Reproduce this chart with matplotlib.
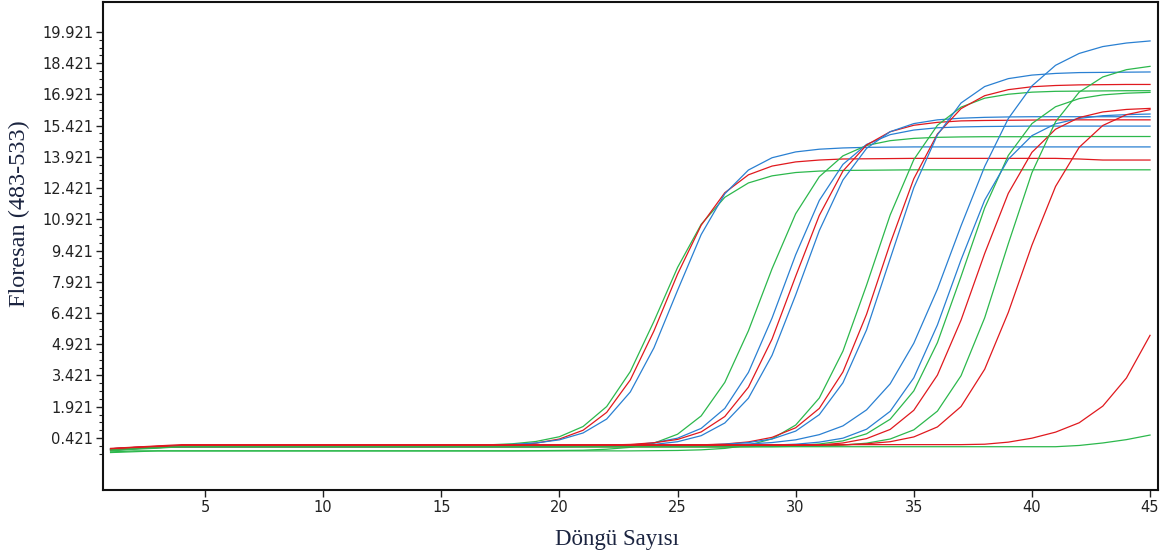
import numpy as np
import matplotlib
matplotlib.use("Agg")
import matplotlib.pyplot as plt
from matplotlib.ticker import FixedLocator

GREEN = "#2cb84c"
RED = "#e0191e"
BLUE = "#2a80d2"

cycles = np.arange(1, 46)

# fluorescence per cycle (1..45) for each well
green_1 = [-0.12, -0.06, 0.0, 0.03] + [0.05] * 10 + [
    0.06, 0.07, 0.09, 0.14, 0.25, 0.48, 0.97, 1.93, 3.61, 6.02, 8.61, 10.68,
    11.98, 12.67, 13.01, 13.17, 13.24, 13.27, 13.28, 13.29] + [13.3] * 11
red_1 = [-0.16, -0.09, -0.04, -0.01] + [0.0] * 10 + [
    0.01, 0.02, 0.03, 0.08, 0.17, 0.37, 0.79, 1.65, 3.21, 5.56, 8.29, 10.64,
    12.2, 13.06, 13.48, 13.68, 13.77, 13.82, 13.83, 13.84] + [13.85] * 7 + [
    13.82, 13.77, 13.77, 13.77]
blue_1 = [-0.1, -0.04, 0.01, 0.04] + [0.05] * 10 + [
    0.06, 0.06, 0.08, 0.11, 0.18, 0.33, 0.66, 1.33, 2.63, 4.75, 7.51, 10.19,
    12.15, 13.29, 13.88, 14.16, 14.29, 14.35, 14.38, 14.39] + [14.4] * 11

green_2 = [-0.25] + [-0.2] * 17 + [
    -0.19, -0.18, -0.17, -0.12, -0.03, 0.17, 0.6, 1.48, 3.09, 5.57, 8.55,
    11.19, 12.97, 13.97, 14.47, 14.7, 14.81, 14.86, 14.88] + [14.89] * 3 + [14.9] * 5
blue_2 = [-0.14, -0.07, -0.02] + [0.0] * 16 + [
    0.01, 0.02, 0.04, 0.08, 0.19, 0.41, 0.88, 1.84, 3.57, 6.18, 9.22, 11.83,
    13.56, 14.52, 14.99, 15.21, 15.32, 15.36, 15.38, 15.39] + [15.4] * 6
red_2 = [-0.12, -0.05, 0.0] + [0.05] * 16 + [
    0.06, 0.06, 0.08, 0.11, 0.19, 0.35, 0.71, 1.45, 2.86, 5.17, 8.19, 11.11,
    13.24, 14.49, 15.13, 15.44, 15.58, 15.65, 15.67, 15.68, 15.69] + [15.7] * 5
blue_3 = [-0.18, -0.1, -0.04] + [0.0] * 17 + [
    0.01, 0.02, 0.05, 0.11, 0.24, 0.53, 1.14, 2.33, 4.39, 7.29, 10.38, 12.81,
    14.33, 15.13, 15.52, 15.7, 15.78, 15.82, 15.84] + [15.85] * 6

green_3 = [-0.28, -0.24] + [-0.2] * 21 + [
    -0.19, -0.18, -0.15, -0.08, 0.07, 0.38, 1.04, 2.34, 4.59, 7.76, 11.13,
    13.79, 15.44, 16.31, 16.74, 16.93, 17.03, 17.07, 17.08, 17.09, 17.1, 17.1]
red_3 = [-0.1, -0.03, 0.02] + [0.05] * 20 + [
    0.06, 0.07, 0.09, 0.13, 0.23, 0.45, 0.91, 1.84, 3.59, 6.36, 9.76, 12.87,
    15.02, 16.24, 16.86, 17.15, 17.29, 17.35, 17.38, 17.39, 17.4, 17.4]
blue_4 = [-0.13, -0.06, 0.0] + [0.05] * 21 + [
    0.06, 0.08, 0.12, 0.2, 0.37, 0.75, 1.54, 3.07, 5.61, 9.03, 12.44, 14.98,
    16.51, 17.3, 17.68, 17.85, 17.93, 17.97, 17.98, 17.99, 18.0]

blue_5 = [-0.1, -0.04, 0.01] + [0.05] * 23 + [
    0.09, 0.13, 0.2, 0.33, 0.58, 1.0, 1.77, 3.02, 4.97, 7.57, 10.61, 13.46,
    15.76, 17.33, 18.32, 18.89, 19.22, 19.39, 19.49]
green_4 = [-0.15, -0.08, -0.03] + [0.0] * 24 + [
    0.01, 0.03, 0.06, 0.13, 0.28, 0.62, 1.32, 2.68, 5.0, 8.18, 11.47, 13.99,
    15.52, 16.33, 16.72, 16.9, 16.98, 17.02]
blue_6 = [-0.11, -0.05, 0.0] + [0.05] * 23 + [
    0.06, 0.07, 0.08, 0.12, 0.22, 0.41, 0.84, 1.7, 3.31, 5.85, 8.98, 11.84,
    13.81, 14.94, 15.51, 15.77, 15.9, 15.95, 15.98]
red_4 = [-0.17, -0.09, -0.03] + [0.0] * 24 + [
    0.01, 0.02, 0.04, 0.08, 0.18, 0.39, 0.83, 1.75, 3.44, 6.08, 9.28, 12.17,
    14.14, 15.25, 15.81, 16.08, 16.2, 16.25]

green_5 = [-0.14, -0.07, -0.02] + [0.0] * 26 + [
    0.02, 0.03, 0.08, 0.17, 0.37, 0.81, 1.71, 3.41, 6.19, 9.75, 13.16, 15.61,
    17.03, 17.76, 18.11, 18.27]
red_5 = [-0.1, -0.04, 0.01] + [0.05] * 26 + [
    0.06, 0.07, 0.09, 0.14, 0.24, 0.47, 0.95, 1.93, 3.72, 6.45, 9.68, 12.5,
    14.38, 15.43, 15.95, 16.19]

red_6 = [-0.08, -0.02, 0.04] + [0.1] * 34 + [
    0.12, 0.22, 0.41, 0.7, 1.15, 1.95, 3.3, 5.35]
green_6 = [-0.2, -0.12, -0.07] + [0.0] * 38 + [0.06, 0.18, 0.34, 0.56]

wells = [
    (green_1, GREEN), (red_1, RED), (blue_1, BLUE),
    (green_2, GREEN), (blue_2, BLUE), (red_2, RED), (blue_3, BLUE),
    (green_3, GREEN), (red_3, RED), (blue_4, BLUE),
    (blue_5, BLUE), (green_4, GREEN), (blue_6, BLUE), (red_4, RED),
    (green_5, GREEN), (red_5, RED),
    (red_6, RED), (green_6, GREEN),
]

y_major = np.arange(0.421, 20.0, 1.5)
y_minor = np.arange(-0.329, 19.95, 0.375)

fig = plt.figure(figsize=(11.68, 5.59), dpi=100)
ax = fig.add_axes([0.0882, 0.1234, 0.9033, 0.873])

for values, color in wells:
    ax.plot(cycles, values, color=color, lw=0.9)

ax.set_xlim(0.68, 45.34)
ax.set_ylim(-2.08, 21.36)
ax.set_xticks(range(5, 46, 5))
ax.set_yticks(y_major)
ax.set_yticklabels([f"{v:.3f}" for v in y_major])
ax.yaxis.set_minor_locator(FixedLocator(y_minor))

ax.tick_params(axis="both", which="major", length=5, width=1,
               labelsize=10.5, colors="#222222", pad=2)
ax.tick_params(axis="y", which="minor", length=3, width=0.8, color="#222222")
for side in ax.spines.values():
    side.set_linewidth(1.5)
    side.set_color("#111111")

label_font = dict(family="Liberation Serif", color="#1b2440")
fig.text(0.528, 0.034, "Döngü Sayısı", ha="center", va="center",
         size=16.5, **label_font)
fig.text(0.017, 0.617, "Floresan (483-533)", rotation=90,
         ha="center", va="center", size=17.5, **label_font)

fig.savefig("out.png", dpi=100)
